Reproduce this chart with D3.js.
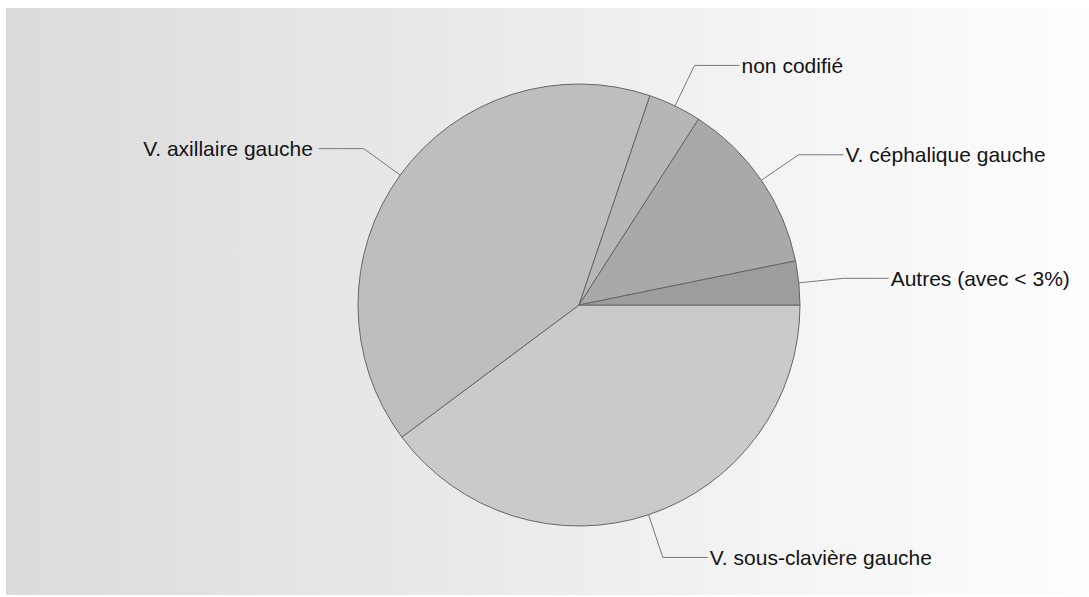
<!DOCTYPE html>
<html>
<head>
<meta charset="utf-8">
<script src="https://cdn.jsdelivr.net/npm/d3@7"></script>
<style>
  body { margin: 0; background: #fff; }
  svg { display: block; }
  text { font-family: "Liberation Sans", Arial, sans-serif; fill: #141414; }
</style>
</head>
<body>
<svg id="chart"></svg>
<script>
/* Data, clockwise from 3 o'clock */
const labels = ['V. sous-clavière gauche', 'V. axillaire gauche', 'non codifié',
  'V. céphalique gauche', 'Autres (avec < 3%)'];
const values = [39.8, 40.4, 3.9, 12.7, 3.2];
const fills = ['#cacaca', '#bebebe', '#b6b6b6', '#a9a9a9', '#9d9d9d'];

const width = 1089, height = 597;
const cx = 579, cy = 305, radius = 221;

const svg = d3.select('#chart')
  .attr('width', width)
  .attr('height', height);

/* background gradient */
const grad = svg.append('defs').append('linearGradient')
  .attr('id', 'bg')
  .attr('x1', 0).attr('x2', 1).attr('y1', 0).attr('y2', 0);
grad.append('stop').attr('offset', '0%').attr('stop-color', '#dbdbdb');
grad.append('stop').attr('offset', '100%').attr('stop-color', '#fefefe');

svg.append('rect')
  .attr('x', 6).attr('y', 8)
  .attr('width', width - 6).attr('height', 587)
  .attr('fill', 'url(#bg)');

const g = svg.append('g')
  .attr('transform', `translate(${cx},${cy})`);

// start at 3 o'clock, go clockwise
const pie = d3.pie()
  .sort(null)
  .startAngle(Math.PI / 2)
  .endAngle(Math.PI / 2 + 2 * Math.PI)
  .value(d => d);

const arc = d3.arc().innerRadius(0).outerRadius(radius);
const arcs = pie(values);

g.selectAll('path.slice')
  .data(arcs)
  .enter().append('path')
  .attr('class', 'slice')
  .attr('d', arc)
  .attr('fill', (d, i) => fills[i])
  .attr('stroke', '#666')
  .attr('stroke-width', 1)
  .attr('stroke-linejoin', 'round');

/* labels + connectors */
const lineLen = 45;
arcs.forEach((d, i) => {
  let a = (d.startAngle + d.endAngle) / 2; // d3: 0 = 12 o'clock
  let ex = Math.sin(a) * radius, ey = -Math.cos(a) * radius;
  let bx = Math.sin(a) * (radius + 45), by = -Math.cos(a) * (radius + 45);
  let left = bx < 0;
  let tx = left ? bx - lineLen : bx + lineLen;

  g.append('path')
    .attr('d', `M${ex},${ey}L${bx},${by}L${tx},${by}`)
    .attr('fill', 'none')
    .attr('stroke', '#777')
    .attr('stroke-width', 1);

  g.append('text')
    .attr('x', left ? tx - 6 : tx + 2)
    .attr('y', by)
    .attr('dy', '0.35em')
    .attr('text-anchor', left ? 'end' : 'start')
    .style('font-size', '21px')
    .text(labels[i]);
});
</script>
</body>
</html>
